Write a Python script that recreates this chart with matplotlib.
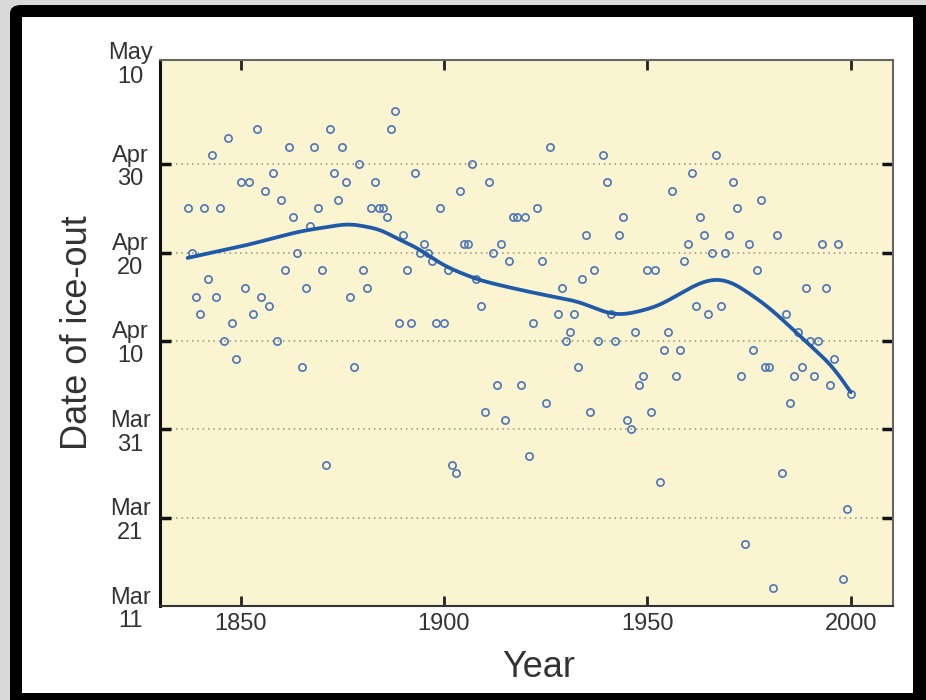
import matplotlib.pyplot as plt
import numpy as np
from matplotlib.patches import FancyBboxPatch, Rectangle
from matplotlib.transforms import ScaledTranslation

plt.rcParams['font.family'] = ['Liberation Sans', 'DejaVu Sans']

# ice-out dates as day of year (Mar 11 = 70, May 10 = 130)
years_early = np.arange(1837, 1927)
ice_out_early = [115, 110, 105, 103, 115, 107, 121, 105, 115, 100,
                 123, 102, 98, 118, 106, 118, 103, 124, 105, 117,
                 104, 119, 100, 116, 108, 122, 114, 110, 97, 106,
                 113, 122, 115, 108, 86, 124, 119, 116, 122, 118,
                 105, 97, 120, 108, 106, 115, 118, 115, 115, 114,
                 124, 126, 102, 112, 108, 102, 119, 110, 111, 110,
                 109, 102, 115, 102, 108, 86, 85, 117, 111, 111,
                 120, 107, 104, 92, 118, 110, 95, 111, 91, 109,
                 114, 114, 95, 114, 87, 102, 115, 109, 93, 122]

years_late = np.arange(1928, 2001)
ice_out_late = [103, 106, 100, 101, 103, 97, 107, 112, 92, 108,
                100, 121, 118, 103, 100, 112, 114, 91, 90, 101,
                95, 96, 108, 92, 108, 84, 99, 101, 117, 96,
                99, 109, 111, 119, 104, 114, 112, 103, 110, 121,
                104, 110, 112, 118, 115, 96, 77, 111, 99, 108,
                116, 97, 97, 72, 112, 85, 103, 93, 96, 101,
                97, 106, 100, 96, 100, 111, 106, 95, 98, 111,
                73, 81, 94]

# smoothed trend
trend_years = [1837, 1852, 1864.5, 1876.7, 1884.8, 1889, 1892.2, 1900.4,
               1908.5, 1916.6, 1924.7, 1932.8, 1941, 1945, 1952.5, 1957.5,
               1962.4, 1966.6, 1970.8, 1975, 1979.1, 1983.3, 1987.4,
               1995.7, 2000]
trend_days = [109.4, 110.9, 112.4, 113.3, 112.6, 111.4, 110.9, 108.4,
              106.9, 106.0, 105.2, 104.5, 103.0, 103.0, 103.9, 105.2,
              106.5, 107.1, 106.7, 105.4, 104.1, 102.4, 100.6,
              97.1, 94.2]

year_ticks = [1850, 1900, 1950, 2000]
day_ticks = [70, 80, 90, 100, 110, 120, 130]
day_labels = ['Mar\n11', 'Mar\n21', 'Mar\n31', 'Apr\n10', 'Apr\n20', 'Apr\n30', 'May\n10']

years = np.concatenate([years_early, years_late])
ice_out = np.array(ice_out_early + ice_out_late)

# round off the corners of the trend polyline
tx = np.linspace(trend_years[0], trend_years[-1], 800)
ty = np.interp(tx, trend_years, trend_days)
kern = np.exp(-0.5 * (np.arange(-30, 31) / 10.0) ** 2)
kern /= kern.sum()
ty = np.convolve(np.pad(ty, 30, mode='reflect', reflect_type='odd'), kern, mode='valid')

fig = plt.figure(figsize=(9.26, 7.0), dpi=100)
fig.patch.set_facecolor('#d9d9d9')

# black rounded frame with white panel inside
fig.patches.append(FancyBboxPatch((10 / 926, -0.05), 1.0, 1.05 - 5 / 700,
                                  boxstyle='round,pad=0,rounding_size=0.012',
                                  transform=fig.transFigure, facecolor='black',
                                  edgecolor='none', zorder=-2))
fig.patches.append(Rectangle((22 / 926, 7 / 700), 891 / 926, 676 / 700,
                             transform=fig.transFigure, facecolor='white',
                             edgecolor='none', zorder=-1))

ax = fig.add_axes([160 / 926, 94 / 700, 733 / 926, 546 / 700])
ax.set_zorder(2)
ax.set_facecolor('#fbf4d0')

for d in day_ticks[1:-1]:
    ax.axhline(d, color='#9c9078', lw=1.1, ls=(0, (1, 2.5)), zorder=1)

ax.plot(years, ice_out, 'o', ms=5.2, mfc='none', mec='#4a74ba', mew=1.2, zorder=3)
ax.plot(tx, ty, color='#1f5aa8', lw=2.7, solid_capstyle='round', zorder=4)

ax.set_xlim(1830.2, 2010.4)
ax.set_ylim(70, 131.8)

ax.set_xticks(year_ticks)
ax.set_yticks(day_ticks)
ax.set_yticklabels(day_labels, linespacing=1.1)
ax.tick_params(axis='x', direction='in', length=7, width=2, color='#222222',
               top=True, labelsize=17, labelcolor='#333333', pad=5)
ax.tick_params(axis='y', direction='in', length=8, width=2.5, color='#111111',
               right=True, labelsize=17, labelcolor='#333333', pad=21.5)
for t in ax.get_yticklabels():
    t.set_ha('center')
    t.set_multialignment('center')

# no tick marks at the bottom and top of the date axis
ticks = ax.yaxis.get_major_ticks()
for tk in (ticks[0], ticks[-1]):
    tk.tick1line.set_visible(False)
    tk.tick2line.set_visible(False)
ax.get_yticklabels()[-1].set_transform(
    ax.get_yticklabels()[-1].get_transform() + ScaledTranslation(0, 14 / 100, fig.dpi_scale_trans))

ax.spines['left'].set_color('#111111')
ax.spines['left'].set_linewidth(2.2)
ax.spines['bottom'].set_color('#333333')
ax.spines['bottom'].set_linewidth(1.5)
for s in ('top', 'right'):
    ax.spines[s].set_color('#666666')
    ax.spines[s].set_linewidth(1.5)

ax.set_xlabel('Year', fontsize=26, color='#333333')
ax.xaxis.label.set_va('center')
ax.xaxis.set_label_coords(0.516, -0.112)
ax.set_ylabel('Date of ice-out', fontsize=26, color='#333333')
ax.yaxis.label.set_va('center')
ax.yaxis.set_label_coords(-0.112, 0.5)

fig.savefig('out.png', dpi=100, facecolor=fig.get_facecolor())
